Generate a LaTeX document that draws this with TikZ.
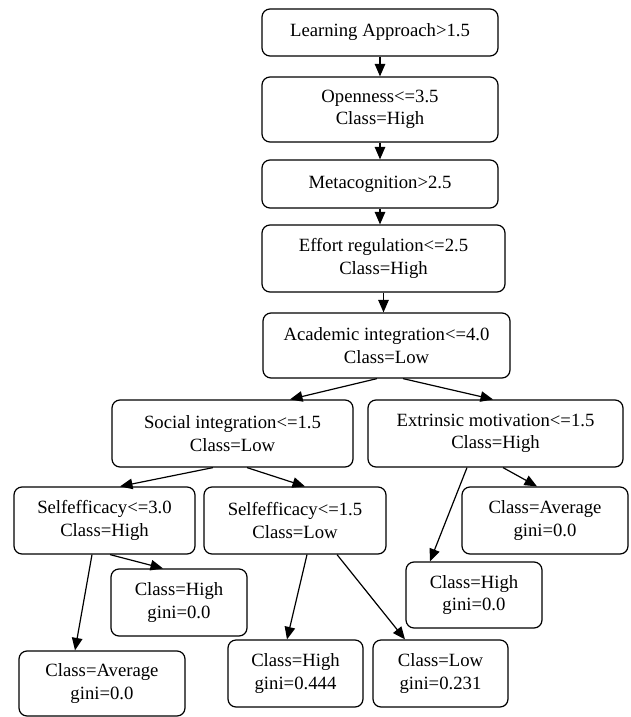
\documentclass[tikz,border=0pt]{standalone}
\usepackage{fontspec}
\setmainfont{Liberation Serif}
\usetikzlibrary{arrows.meta}
\begin{document}
\begin{tikzpicture}[x=1pt,y=-1pt,
  treenode/.style={draw=black, line width=1.2pt, rounded corners=8pt, fill=white,
    align=center, inner sep=0pt, font=\fontsize{18.7}{22.5}\selectfont},
  edge/.style={line width=1.2pt, -{Triangle[length=12.5pt,width=10.5pt]}}]
\useasboundingbox (0,0) rectangle (630,717);
% decision nodes
\node[treenode, minimum width=236pt, minimum height=47pt] (learn) at (380,32.5) {Learning Approach>1.5};
\node[treenode, minimum width=236pt, minimum height=65pt] (open) at (380,109.5) {Openness<=3.5\\Class=High};
\node[treenode, minimum width=236pt, minimum height=48pt] (meta) at (380,184) {Metacognition>2.5};
\node[treenode, minimum width=243pt, minimum height=67pt] (effort) at (383.5,258.5) {Effort regulation<=2.5\\Class=High};
\node[treenode, minimum width=247pt, minimum height=65pt] (acad) at (386.5,345.5) {Academic integration<=4.0\\Class=Low};
\node[treenode, minimum width=241pt, minimum height=67pt] (soc) at (232.5,433.5) {Social integration<=1.5\\Class=Low};
\node[treenode, minimum width=255pt, minimum height=67pt] (extr) at (495.5,433.5) {Extrinsic motivation<=1.5\\Class=High};
\node[treenode, minimum width=181pt, minimum height=67pt] (selfa) at (104.5,520.5) {Selfefficacy<=3.0\\Class=High};
\node[treenode, minimum width=182pt, minimum height=67pt] (selfb) at (295,520.5) {Selfefficacy<=1.5\\Class=Low};
% leaves
\node[treenode, minimum width=166pt, minimum height=67pt] (avgR) at (545,520.5) {Class=Average\\gini=0.0};
\node[treenode, minimum width=136pt, minimum height=67pt] (highL) at (179,602.5) {Class=High\\gini=0.0};
\node[treenode, minimum width=136pt, minimum height=66pt] (highR) at (474,595) {Class=High\\gini=0.0};
\node[treenode, minimum width=166pt, minimum height=65pt] (avgL) at (102,683.5) {Class=Average\\gini=0.0};
\node[treenode, minimum width=135pt, minimum height=67pt] (hig) at (295.5,673.5) {Class=High\\gini=0.444};
\node[treenode, minimum width=135pt, minimum height=67pt] (low) at (440.5,673.5) {Class=Low\\gini=0.231};
% straight chain
\draw[edge] (learn.south) -- (learn.south |- open.north);
\draw[edge] (open.south) -- (open.south |- meta.north);
\draw[edge] (meta.south) -- (meta.south |- effort.north);
\draw[edge] (effort.south) -- (effort.south |- acad.north);
% branches
\draw[edge] ([xshift=-9.5pt]acad.south) -- ([xshift=57.5pt]soc.north);
\draw[edge] ([xshift=16.5pt]acad.south) -- ([xshift=-2.5pt]extr.north);
\draw[edge] ([xshift=-19.5pt]soc.south) -- ([xshift=15.5pt]selfa.north);
\draw[edge] ([xshift=14.5pt]soc.south) -- ([xshift=10pt]selfb.north);
\draw[edge] ([xshift=5.5pt]selfa.south) -- ([xshift=-16pt]highL.north);
\draw[edge] ([xshift=-12.5pt]selfa.south) -- ([xshift=-27pt]avgL.north);
\draw[edge] ([xshift=12pt]selfb.south) -- ([xshift=-8.5pt]hig.north);
\draw[edge] ([xshift=42pt]selfb.south) -- ([xshift=-35.5pt]low.north);
\draw[edge] ([xshift=-28.5pt]extr.south) -- ([xshift=-44pt]highR.north);
\draw[edge] ([xshift=7.5pt]extr.south) -- ([xshift=-8pt]avgR.north);
\end{tikzpicture}
\end{document}
